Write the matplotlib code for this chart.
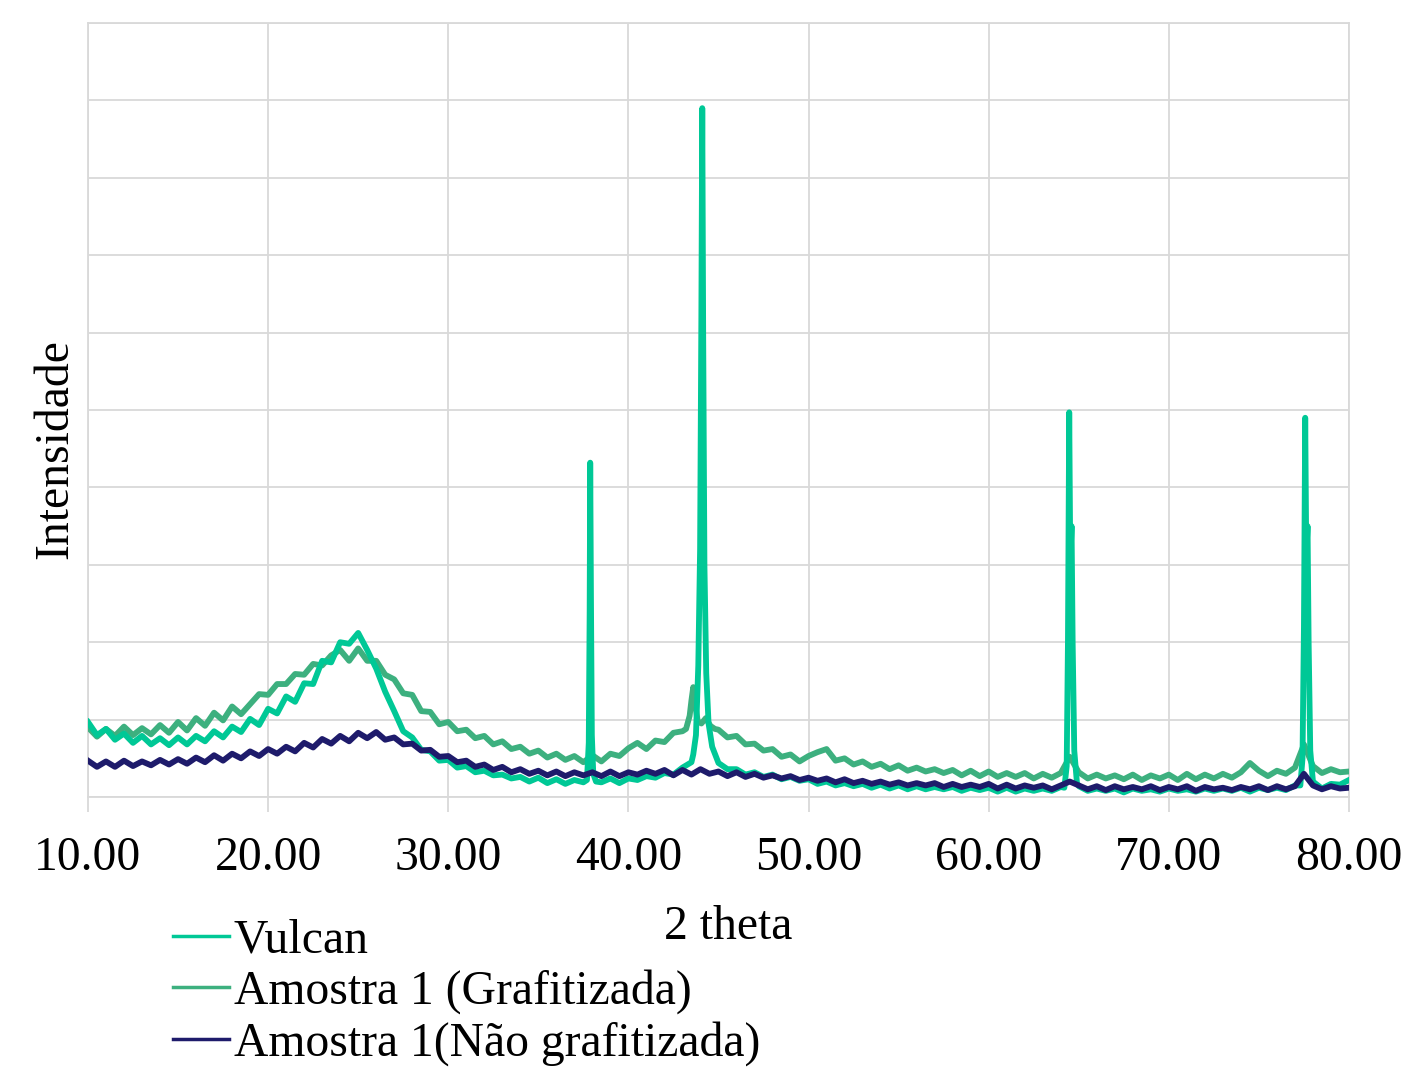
import numpy as np
import matplotlib
matplotlib.use("Agg")
import matplotlib.pyplot as plt

plt.rcParams['font.family'] = ['Liberation Serif', 'DejaVu Serif']

# 2 theta grid (step 0.5) used for the background of each pattern
two_theta = np.arange(10, 80.001, 0.5)

vulcan_base = [
    0.97, 0.80, 0.88, 0.74, 0.82, 0.70, 0.79, 0.68, 0.76, 0.67,
    0.77, 0.68, 0.79, 0.72, 0.85, 0.77, 0.91, 0.84, 1.01, 0.93,
    1.14, 1.08, 1.30, 1.23, 1.47, 1.46, 1.76, 1.74, 2.00, 1.98,
    2.12, 1.90, 1.66, 1.36, 1.11, 0.85, 0.77, 0.61, 0.59, 0.47,
    0.48, 0.38, 0.40, 0.32, 0.34, 0.28, 0.29, 0.24, 0.26, 0.20,
    0.25, 0.18, 0.23, 0.17, 0.22, 0.19, 0.21, 0.19, 0.24, 0.18,
    0.24, 0.22, 0.27, 0.25, 0.31, 0.29, 0.38, 0.45, 0.60, 0.60,
    0.44, 0.36, 0.36, 0.29, 0.32, 0.26, 0.29, 0.23, 0.26, 0.21,
    0.23, 0.17, 0.20, 0.15, 0.18, 0.14, 0.17, 0.12, 0.16, 0.11,
    0.15, 0.10, 0.14, 0.10, 0.13, 0.10, 0.13, 0.08, 0.12, 0.09,
    0.12, 0.07, 0.12, 0.07, 0.11, 0.08, 0.11, 0.08, 0.13, 0.13,
    0.14, 0.08, 0.11, 0.08, 0.11, 0.06, 0.11, 0.08, 0.10, 0.07,
    0.11, 0.08, 0.10, 0.07, 0.11, 0.08, 0.11, 0.08, 0.12, 0.07,
    0.12, 0.09, 0.12, 0.09, 0.15, 0.15, 0.17, 0.11, 0.17, 0.16,
    0.22,
]
grafitizada_base = [
    0.90, 0.78, 0.88, 0.79, 0.91, 0.80, 0.89, 0.81, 0.93, 0.83,
    0.97, 0.86, 1.02, 0.92, 1.09, 0.99, 1.17, 1.07, 1.20, 1.33,
    1.32, 1.46, 1.46, 1.59, 1.58, 1.72, 1.70, 1.83, 1.90, 1.76,
    1.92, 1.76, 1.76, 1.58, 1.52, 1.34, 1.32, 1.11, 1.10, 0.94,
    0.97, 0.85, 0.87, 0.76, 0.79, 0.68, 0.72, 0.62, 0.65, 0.56,
    0.60, 0.51, 0.56, 0.48, 0.53, 0.45, 0.54, 0.46, 0.56, 0.53,
    0.63, 0.70, 0.62, 0.73, 0.71, 0.83, 0.85, 0.90, 0.95, 0.95,
    0.87, 0.77, 0.79, 0.68, 0.69, 0.60, 0.62, 0.52, 0.55, 0.46,
    0.53, 0.58, 0.62, 0.47, 0.50, 0.42, 0.46, 0.39, 0.43, 0.36,
    0.41, 0.34, 0.38, 0.33, 0.36, 0.31, 0.35, 0.28, 0.34, 0.27,
    0.33, 0.26, 0.31, 0.26, 0.31, 0.24, 0.30, 0.25, 0.31, 0.52,
    0.32, 0.24, 0.29, 0.24, 0.28, 0.23, 0.29, 0.22, 0.28, 0.24,
    0.29, 0.22, 0.30, 0.23, 0.29, 0.24, 0.30, 0.25, 0.32, 0.44,
    0.34, 0.27, 0.34, 0.30, 0.38, 0.68, 0.40, 0.31, 0.36, 0.32,
    0.33,
]
nao_grafitizada_base = [
    0.47, 0.39, 0.46, 0.39, 0.47, 0.40, 0.46, 0.41, 0.48, 0.42,
    0.49, 0.43, 0.51, 0.45, 0.54, 0.47, 0.56, 0.50, 0.59, 0.53,
    0.62, 0.56, 0.65, 0.59, 0.70, 0.64, 0.75, 0.69, 0.79, 0.72,
    0.83, 0.76, 0.84, 0.74, 0.77, 0.68, 0.69, 0.60, 0.61, 0.52,
    0.53, 0.45, 0.47, 0.39, 0.42, 0.35, 0.39, 0.32, 0.36, 0.30,
    0.34, 0.28, 0.33, 0.27, 0.32, 0.28, 0.32, 0.27, 0.33, 0.27,
    0.32, 0.29, 0.34, 0.30, 0.35, 0.28, 0.35, 0.29, 0.36, 0.30,
    0.33, 0.27, 0.32, 0.26, 0.30, 0.25, 0.28, 0.24, 0.27, 0.22,
    0.25, 0.21, 0.24, 0.19, 0.23, 0.18, 0.21, 0.17, 0.20, 0.16,
    0.19, 0.15, 0.18, 0.15, 0.18, 0.13, 0.17, 0.13, 0.16, 0.13,
    0.17, 0.11, 0.16, 0.11, 0.15, 0.12, 0.15, 0.10, 0.15, 0.20,
    0.15, 0.10, 0.14, 0.09, 0.14, 0.10, 0.13, 0.10, 0.14, 0.09,
    0.13, 0.10, 0.14, 0.08, 0.13, 0.10, 0.12, 0.09, 0.13, 0.10,
    0.14, 0.09, 0.14, 0.10, 0.14, 0.30, 0.15, 0.10, 0.14, 0.11,
    0.12,
]

# sharp reflections of Vulcan (Pt) and the graphitized sample
vulcan_peaks_x = [
    [37.70, 37.80, 37.85, 37.88, 37.92, 37.97, 38.05, 38.20],
    [43.60, 43.75, 43.88, 43.98, 44.05, 44.10, 44.15, 44.22, 44.32, 44.45, 44.65, 44.90],
    [64.20, 64.33, 64.40, 64.47, 64.53, 64.60, 64.66, 64.75, 64.90],
    [77.30, 77.42, 77.50, 77.57, 77.63, 77.70, 77.76, 77.85, 78.00],
]
vulcan_peaks_y = [
    [0.22, 0.70, 2.40, 4.32, 2.60, 0.80, 0.30, 0.20],
    [0.55, 0.80, 1.70, 3.20, 6.20, 8.90, 6.00, 3.00, 1.60, 0.95, 0.65, 0.50],
    [0.12, 0.40, 2.00, 4.97, 3.00, 3.50, 2.00, 0.60, 0.18],
    [0.15, 0.50, 2.20, 4.90, 3.10, 3.50, 2.00, 0.60, 0.20],
]
grafitizada_peaks_x = [[43.20, 43.40, 43.50, 43.60, 43.70, 43.85, 44.05, 44.30, 44.55, 44.80]]
grafitizada_peaks_y = [[0.88, 1.05, 1.25, 1.42, 1.20, 0.98, 0.95, 1.02, 0.92, 0.88]]

labels = ['Vulcan', 'Amostra 1 (Grafitizada)', 'Amostra 1(Não grafitizada)']
colors = ['#00C896', '#3DB07F', '#1E1B6B']
x_ticks = [10, 20, 30, 40, 50, 60, 70, 80]


def merge(base, peaks_x, peaks_y):
    x = two_theta.copy()
    y = np.array(base, dtype=float)
    keep = np.ones_like(x, dtype=bool)
    for px in peaks_x:
        keep &= ~((x >= min(px)) & (x <= max(px)))
    x, y = x[keep], y[keep]
    for px, py in zip(peaks_x, peaks_y):
        x = np.concatenate([x, px])
        y = np.concatenate([y, py])
    order = np.argsort(x)
    return x[order], y[order]


vx, vy = merge(vulcan_base, vulcan_peaks_x, vulcan_peaks_y)
gx, gy = merge(grafitizada_base, grafitizada_peaks_x, grafitizada_peaks_y)
nx, ny = np.array(two_theta), np.array(nao_grafitizada_base)

fig = plt.figure(figsize=(14.03, 10.71), dpi=100)
ax = fig.add_axes([0.0627, 0.2558, 0.8988, 0.7227])

fs = 34.3
lw = 4.2
l2, = ax.plot(gx, gy, color=colors[1], lw=lw, zorder=3)
l1, = ax.plot(vx, vy, color=colors[0], lw=lw, zorder=4)
l3, = ax.plot(nx, ny, color=colors[2], lw=lw, zorder=5)

ax.set_xlim(10, 80)
ax.set_ylim(0, 10)
ax.set_xticks(x_ticks)
ax.set_xticklabels([f'{t:.2f}' for t in x_ticks], fontsize=fs)
ax.set_yticks(range(0, 11))
ax.set_yticklabels([])
ax.tick_params(axis='x', direction='out', length=11, width=1.3, color='#d9d9d9', pad=17)
ax.tick_params(axis='y', length=0)
ax.grid(True, color='#d9d9d9', lw=1.3)
ax.set_axisbelow(True)
for s in ax.spines.values():
    s.set_color('#d9d9d9')
    s.set_linewidth(1.3)

ax.set_xlabel('2 theta', fontsize=fs)
ax.xaxis.set_label_coords(0.508, -0.139)
ax.set_ylabel('Intensidade', fontsize=fs)
ax.yaxis.set_label_coords(-0.0084, 0.45)

leg = fig.legend([l1, l2, l3], labels, loc='upper left', bbox_to_anchor=(0.1235, 0.142),
                 frameon=False, fontsize=fs, handlelength=1.17, handletextpad=0.1,
                 labelspacing=0.14, borderaxespad=0, borderpad=0)
for h in leg.get_lines():
    h.set_linewidth(2.5)

fig.savefig('out.png', dpi=100, facecolor='white')
